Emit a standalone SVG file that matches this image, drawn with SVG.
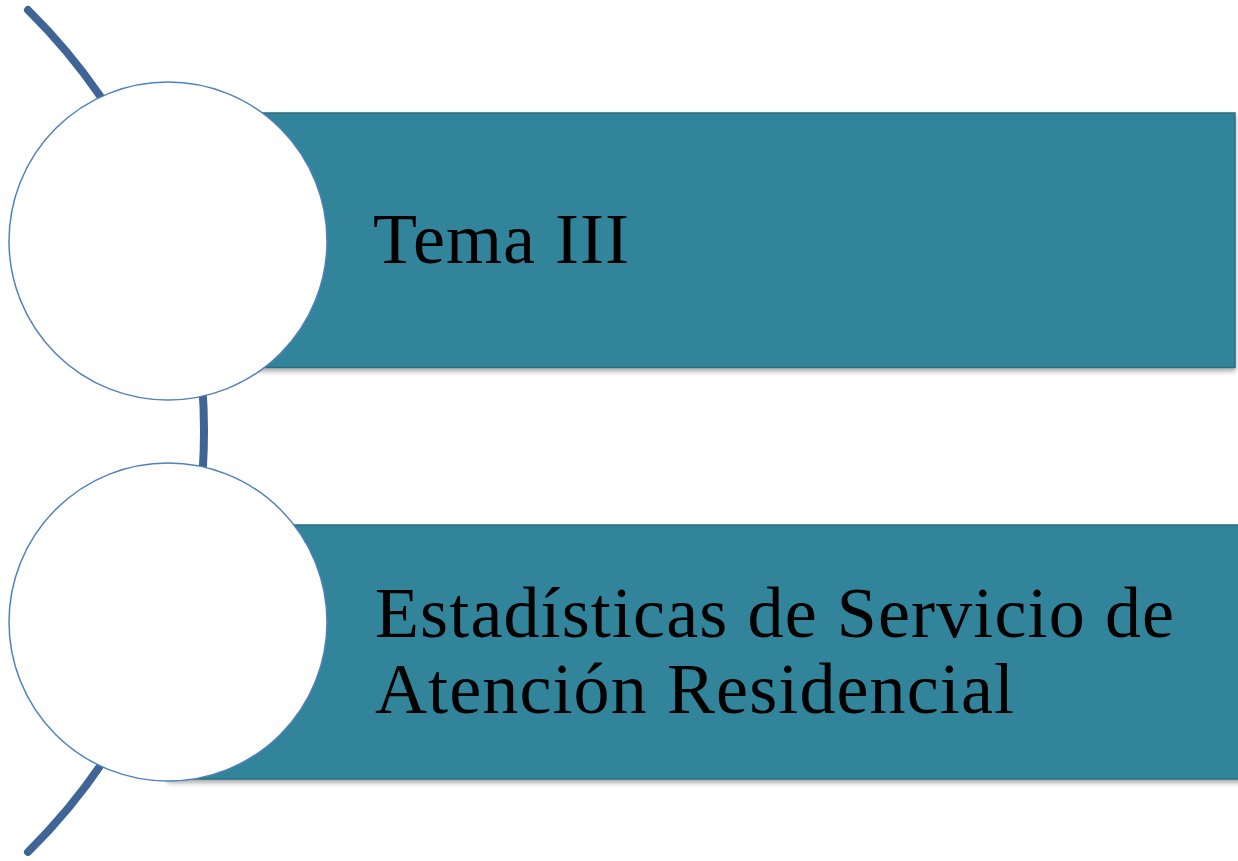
<svg xmlns="http://www.w3.org/2000/svg" width="1238" height="861" viewBox="0 0 1238 861">
  <defs>
    <filter id="shadow" x="-5%" y="-10%" width="110%" height="125%">
      <feDropShadow dx="0" dy="3" stdDeviation="2.5" flood-color="#000000" flood-opacity="0.35"/>
    </filter>
    <style>
      .bar { fill: #31849B; stroke: #2B6E80; stroke-width: 1.5; filter: url(#shadow); }
      .node-circle { fill: #FFFFFF; stroke: #4F81BD; stroke-width: 1.5; }
      .arc { fill: none; stroke: #3E6596; stroke-width: 8; stroke-linecap: round; }
      .label { font-family: "Liberation Serif", "Times New Roman", serif; font-size: 72px; fill: #000000; }
    </style>
  </defs>
  <rect width="1238" height="861" fill="#FFFFFF"/>
  <g id="connectors">
    <path class="arc" d="M 28 10 A 591.5 591.5 0 0 1 28 852"/>
  </g>
  <g id="node-1">
    <rect class="bar" x="168" y="113" width="1067" height="254.5"/>
    <circle class="node-circle" cx="168" cy="241" r="159"/>
    <text class="label" x="373" y="263" textLength="256" lengthAdjust="spacing">Tema III</text>
  </g>
  <g id="node-2">
    <rect class="bar" x="168" y="525" width="1075" height="254"/>
    <circle class="node-circle" cx="168" cy="622" r="159"/>
    <text class="label" x="375" y="637" textLength="799" lengthAdjust="spacing">Estadísticas de Servicio de</text>
    <text class="label" x="375" y="713" textLength="639" lengthAdjust="spacing">Atención Residencial</text>
  </g>
</svg>
